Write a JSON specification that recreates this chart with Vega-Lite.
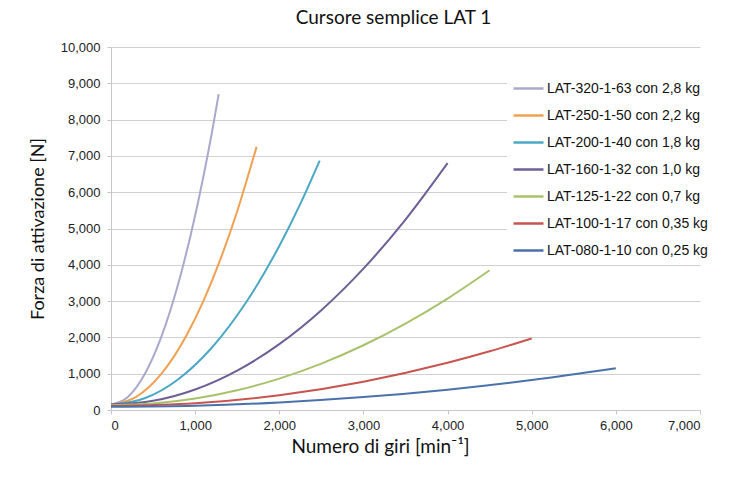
{
  "$schema": "https://vega.github.io/schema/vega-lite/v6.json",
  "width": 589,
  "height": 363,
  "autosize": "none",
  "padding": {"left": 111, "top": 47, "right": 35, "bottom": 67},
  "background": "white",
  "title": {
    "text": "Cursore semplice LAT 1",
    "font": "Lato",
    "fontSize": 19,
    "fontWeight": "normal",
    "color": "#111111",
    "anchor": "middle",
    "frame": "group",
    "dx": -12,
    "offset": 13
  },
  "data": {
    "values": [
      {"serie": "LAT-320-1-63 con 2,8 kg", "n": 0, "f": 150},
      {"serie": "LAT-320-1-63 con 2,8 kg", "n": 200, "f": 358},
      {"serie": "LAT-320-1-63 con 2,8 kg", "n": 400, "f": 984},
      {"serie": "LAT-320-1-63 con 2,8 kg", "n": 600, "f": 2026},
      {"serie": "LAT-320-1-63 con 2,8 kg", "n": 800, "f": 3484},
      {"serie": "LAT-320-1-63 con 2,8 kg", "n": 1000, "f": 5360},
      {"serie": "LAT-320-1-63 con 2,8 kg", "n": 1100, "f": 6454},
      {"serie": "LAT-320-1-63 con 2,8 kg", "n": 1200, "f": 7652},
      {"serie": "LAT-320-1-63 con 2,8 kg", "n": 1280, "f": 8700},
      {"serie": "LAT-250-1-50 con 2,2 kg", "n": 0, "f": 150},
      {"serie": "LAT-250-1-50 con 2,2 kg", "n": 300, "f": 363},
      {"serie": "LAT-250-1-50 con 2,2 kg", "n": 600, "f": 1002},
      {"serie": "LAT-250-1-50 con 2,2 kg", "n": 900, "f": 2067},
      {"serie": "LAT-250-1-50 con 2,2 kg", "n": 1100, "f": 3014},
      {"serie": "LAT-250-1-50 con 2,2 kg", "n": 1300, "f": 4150},
      {"serie": "LAT-250-1-50 con 2,2 kg", "n": 1500, "f": 5476},
      {"serie": "LAT-250-1-50 con 2,2 kg", "n": 1730, "f": 7250},
      {"serie": "LAT-200-1-40 con 1,8 kg", "n": 0, "f": 150},
      {"serie": "LAT-200-1-40 con 1,8 kg", "n": 400, "f": 325},
      {"serie": "LAT-200-1-40 con 1,8 kg", "n": 800, "f": 849},
      {"serie": "LAT-200-1-40 con 1,8 kg", "n": 1200, "f": 1722},
      {"serie": "LAT-200-1-40 con 1,8 kg", "n": 1600, "f": 2946},
      {"serie": "LAT-200-1-40 con 1,8 kg", "n": 2000, "f": 4518},
      {"serie": "LAT-200-1-40 con 1,8 kg", "n": 2250, "f": 5678},
      {"serie": "LAT-200-1-40 con 1,8 kg", "n": 2480, "f": 6870},
      {"serie": "LAT-160-1-32 con 1,0 kg", "n": 0, "f": 150},
      {"serie": "LAT-160-1-32 con 1,0 kg", "n": 500, "f": 254},
      {"serie": "LAT-160-1-32 con 1,0 kg", "n": 1000, "f": 566},
      {"serie": "LAT-160-1-32 con 1,0 kg", "n": 1500, "f": 1086},
      {"serie": "LAT-160-1-32 con 1,0 kg", "n": 2000, "f": 1814},
      {"serie": "LAT-160-1-32 con 1,0 kg", "n": 2500, "f": 2750},
      {"serie": "LAT-160-1-32 con 1,0 kg", "n": 3000, "f": 3894},
      {"serie": "LAT-160-1-32 con 1,0 kg", "n": 3500, "f": 5246},
      {"serie": "LAT-160-1-32 con 1,0 kg", "n": 4000, "f": 6800},
      {"serie": "LAT-125-1-22 con 0,7 kg", "n": 0, "f": 130},
      {"serie": "LAT-125-1-22 con 0,7 kg", "n": 500, "f": 176},
      {"serie": "LAT-125-1-22 con 0,7 kg", "n": 1000, "f": 314},
      {"serie": "LAT-125-1-22 con 0,7 kg", "n": 1500, "f": 543},
      {"serie": "LAT-125-1-22 con 0,7 kg", "n": 2000, "f": 865},
      {"serie": "LAT-125-1-22 con 0,7 kg", "n": 2500, "f": 1278},
      {"serie": "LAT-125-1-22 con 0,7 kg", "n": 3000, "f": 1783},
      {"serie": "LAT-125-1-22 con 0,7 kg", "n": 3500, "f": 2380},
      {"serie": "LAT-125-1-22 con 0,7 kg", "n": 4000, "f": 3069},
      {"serie": "LAT-125-1-22 con 0,7 kg", "n": 4500, "f": 3850},
      {"serie": "LAT-100-1-17 con 0,35 kg", "n": 0, "f": 110},
      {"serie": "LAT-100-1-17 con 0,35 kg", "n": 1000, "f": 184},
      {"serie": "LAT-100-1-17 con 0,35 kg", "n": 2000, "f": 408},
      {"serie": "LAT-100-1-17 con 0,35 kg", "n": 3000, "f": 780},
      {"serie": "LAT-100-1-17 con 0,35 kg", "n": 4000, "f": 1300},
      {"serie": "LAT-100-1-17 con 0,35 kg", "n": 4500, "f": 1617},
      {"serie": "LAT-100-1-17 con 0,35 kg", "n": 5000, "f": 1970},
      {"serie": "LAT-080-1-10 con 0,25 kg", "n": 0, "f": 90},
      {"serie": "LAT-080-1-10 con 0,25 kg", "n": 1000, "f": 119},
      {"serie": "LAT-080-1-10 con 0,25 kg", "n": 2000, "f": 208},
      {"serie": "LAT-080-1-10 con 0,25 kg", "n": 3000, "f": 355},
      {"serie": "LAT-080-1-10 con 0,25 kg", "n": 4000, "f": 560},
      {"serie": "LAT-080-1-10 con 0,25 kg", "n": 5000, "f": 825},
      {"serie": "LAT-080-1-10 con 0,25 kg", "n": 6000, "f": 1150}
    ]
  },
  "mark": {"type": "line", "interpolate": "monotone", "strokeWidth": 2},
  "encoding": {
    "x": {
      "field": "n",
      "type": "quantitative",
      "scale": {"domain": [0, 7000], "nice": false},
      "axis": {
        "title": "Numero di giri [min⁻¹]",
        "values": [0, 1000, 2000, 3000, 4000, 5000, 6000, 7000],
        "format": ",.0f",
        "grid": false,
        "domainColor": "#c8c8c8",
        "tickColor": "#c8c8c8",
        "tickSize": 4,
        "labelPadding": 5,
        "labelFont": "Liberation Sans",
        "labelFontSize": 13,
        "labelColor": "#222222",
        "titleFont": "Lato",
        "titleFontSize": 19,
        "titleFontWeight": "normal",
        "titleColor": "#111111",
        "titleX": 269,
        "titleAlign": "center",
        "titlePadding": 5
      }
    },
    "y": {
      "field": "f",
      "type": "quantitative",
      "scale": {"domain": [0, 10000], "nice": false},
      "axis": {
        "title": "Forza di attivazione [N]",
        "values": [0, 1000, 2000, 3000, 4000, 5000, 6000, 7000, 8000, 9000, 10000],
        "format": ",.0f",
        "grid": true,
        "gridColor": "#d0d0d0",
        "gridWidth": 1,
        "domainColor": "#c8c8c8",
        "tickColor": "#c8c8c8",
        "tickSize": 4,
        "labelPadding": 7,
        "labelFont": "Liberation Sans",
        "labelFontSize": 13,
        "labelColor": "#222222",
        "titleFont": "Lato",
        "titleFontSize": 18,
        "titleFontWeight": "normal",
        "titleColor": "#111111",
        "titlePadding": 13
      }
    },
    "color": {
      "field": "serie",
      "type": "nominal",
      "sort": null,
      "scale": {
        "domain": [
          "LAT-320-1-63 con 2,8 kg",
          "LAT-250-1-50 con 2,2 kg",
          "LAT-200-1-40 con 1,8 kg",
          "LAT-160-1-32 con 1,0 kg",
          "LAT-125-1-22 con 0,7 kg",
          "LAT-100-1-17 con 0,35 kg",
          "LAT-080-1-10 con 0,25 kg"
        ],
        "range": ["#a9a9cc", "#f0a050", "#4aa8c4", "#6e5f96", "#a8c26c", "#c85450", "#4a72aa"]
      },
      "legend": {
        "title": null,
        "orient": "none",
        "legendX": 396,
        "legendY": 20,
        "padding": 5,
        "fillColor": "white",
        "symbolType": "stroke",
        "symbolSize": 900,
        "symbolStrokeWidth": 2.5,
        "rowPadding": 3,
        "labelOffset": 2,
        "labelFont": "Liberation Sans",
        "labelFontSize": 14,
        "labelColor": "#111111",
        "labelLimit": 300
      }
    }
  },
  "config": {
    "view": {"stroke": null}
  }
}
